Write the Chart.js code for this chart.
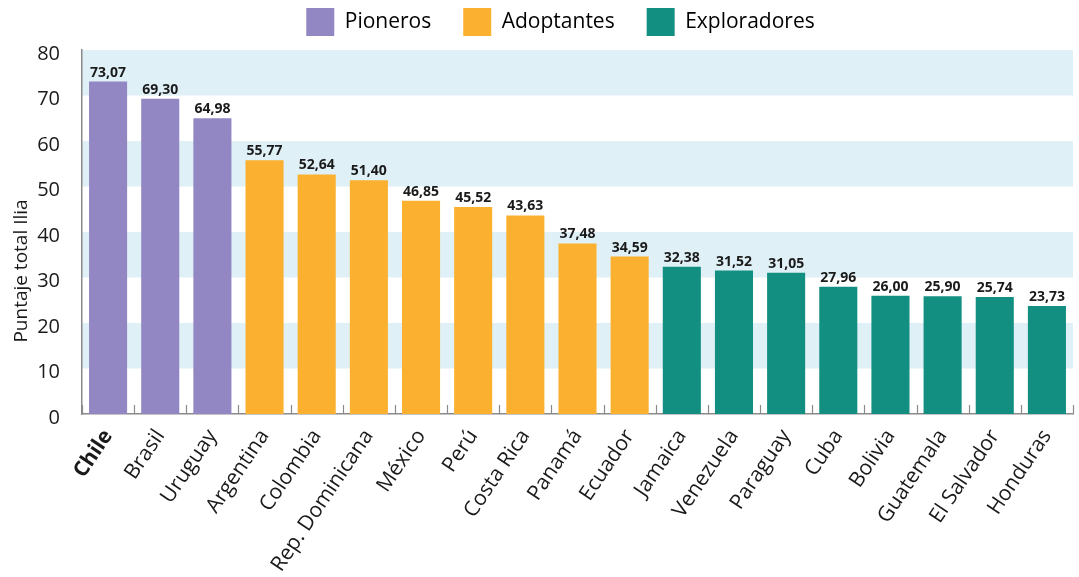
<!DOCTYPE html>
<html>
<head>
<meta charset="utf-8">
<script src="https://cdn.jsdelivr.net/npm/chart.js@4"></script>
<style>
  html, body { margin: 0; padding: 0; background: #fff; }
  #wrap { width: 1079px; height: 577px; }
</style>
</head>
<body>
<div id="wrap"><canvas id="chart"></canvas></div>
<script>
const countries = ['Chile', 'Brasil', 'Uruguay', 'Argentina', 'Colombia', 'Rep. Dominicana', 'México',
    'Perú', 'Costa Rica', 'Panamá', 'Ecuador', 'Jamaica', 'Venezuela', 'Paraguay', 'Cuba',
    'Bolivia', 'Guatemala', 'El Salvador', 'Honduras'];
const scores = [73.07, 69.30, 64.98, 55.77, 52.64, 51.40, 46.85, 45.52, 43.63, 37.48, 34.59,
    32.38, 31.52, 31.05, 27.96, 26.00, 25.90, 25.74, 23.73];
const groupOf = [0, 0, 0, 1, 1, 1, 1, 1, 1, 1, 1, 2, 2, 2, 2, 2, 2, 2, 2];
const groups = ['Pioneros', 'Adoptantes', 'Exploradores'];
const groupColors = ['#9387c3', '#fbb12f', '#138f81'];
const bandStarts = [10, 30, 50, 70];

Chart.defaults.font.family = "'Open Sans', sans-serif";
Chart.defaults.color = '#1a1a1a';

// light blue stripes behind the bars
const bands = {
    id: 'bands',
    beforeDraw(chart) {
        const { ctx, chartArea, scales } = chart;
        ctx.save();
        ctx.fillStyle = '#dff0f7';
        bandStarts.forEach(v => {
            const top = scales.y.getPixelForValue(v + 10);
            const bot = scales.y.getPixelForValue(v);
            ctx.fillRect(chartArea.left, top, chartArea.right - chartArea.left, bot - top);
        });
        ctx.restore();
    }
};

// small tick marks between categories + value labels on bars
const extras = {
    id: 'extras',
    afterDatasetsDraw(chart) {
        const { ctx, chartArea, scales } = chart;
        const half = (scales.x.getPixelForValue(1) - scales.x.getPixelForValue(0)) / 2;
        ctx.save();
        ctx.strokeStyle = '#8a8a8a';
        ctx.lineWidth = 1.2;
        for (let i = 0; i <= countries.length; i++) {
            const x = Math.round(scales.x.getPixelForValue(i) - half) + 0.5;
            ctx.beginPath();
            ctx.moveTo(x, chartArea.bottom - 9);
            ctx.lineTo(x, chartArea.bottom);
            ctx.stroke();
        }
        ctx.fillStyle = '#1a1a1a';
        ctx.font = "bold 14px 'Open Sans', sans-serif";
        ctx.textAlign = 'center';
        ctx.textBaseline = 'bottom';
        chart.getDatasetMeta(0).data.forEach((bar, i) => {
            ctx.fillText(scores[i].toFixed(2).replace('.', ','), bar.x, bar.y - 2);
        });
        ctx.restore();
    }
};

// keep the legend compact at the top, nudge the y title down a bit
const layoutTweaks = {
    id: 'layoutTweaks',
    afterInit(chart) {
        const lg = chart.legend;
        const fit = lg.fit;
        lg.fit = function () {
            fit.call(this);
            this.height = 50;
        };
    },
    afterLayout(chart) {
        const lg = chart.legend;
        lg.top -= 24;
        lg.left += 20;
        lg.right += 20;

        const y = chart.scales.y;
        if (!y._titleMoved) {
            const drawTitle = y.drawTitle;
            y.drawTitle = function () {
                this.ctx.save();
                this.ctx.translate(0, 39);
                drawTitle.call(this);
                this.ctx.restore();
            };
            y._titleMoved = true;
        }
    }
};

new Chart(document.getElementById('chart'), {
    type: 'bar',
    data: {
        labels: countries,
        datasets: [{
            data: scores,
            backgroundColor: scores.map((v, i) => groupColors[groupOf[i]]),
            barPercentage: 0.73,
            categoryPercentage: 1
        }]
    },
    options: {
        responsive: true,
        maintainAspectRatio: false,
        animation: false,
        layout: { padding: { left: 8, right: 6, top: 0, bottom: 0 } },
        plugins: {
            tooltip: { enabled: false },
            legend: {
                position: 'top',
                labels: {
                    boxWidth: 28,
                    boxHeight: 28,
                    padding: 32,
                    color: '#1a1a1a',
                    font: { size: 21 },
                    generateLabels: () => groups.map((g, i) => ({
                        text: g,
                        fillStyle: groupColors[i],
                        strokeStyle: groupColors[i],
                        lineWidth: 0,
                        hidden: false,
                        datasetIndex: 0
                    }))
                }
            }
        },
        scales: {
            x: {
                grid: { display: false },
                border: { display: true, color: '#8a8a8a', width: 1.5 },
                ticks: {
                    autoSkip: false,
                    maxRotation: 56,
                    minRotation: 56,
                    padding: 3,
                    color: '#1a1a1a',
                    font: ctx => ctx.index === 0 ? { size: 21, weight: 'bold' } : { size: 21 }
                },
                afterFit(scale) { scale.height = 163; }
            },
            y: {
                min: 0,
                max: 80,
                grid: { display: false },
                border: { display: true, color: '#8a8a8a', width: 1.5 },
                ticks: { stepSize: 10, padding: 14, labelOffset: 4, color: '#1a1a1a', font: { size: 20 } },
                title: {
                    display: true,
                    text: 'Puntaje total Ilia',
                    color: '#1a1a1a',
                    font: { size: 19 },
                    padding: { top: 2, bottom: 0 }
                },
                afterFit(scale) { scale.width = 74; }
            }
        }
    },
    plugins: [bands, extras, layoutTweaks]
});
</script>
</body>
</html>
